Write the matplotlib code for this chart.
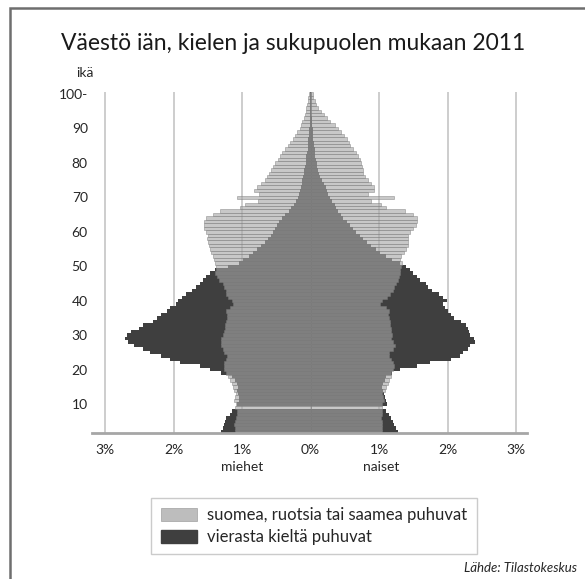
import matplotlib
matplotlib.use("Agg")
import matplotlib.pyplot as plt
import numpy as np
from matplotlib.patches import Patch, Rectangle

plt.rcParams['font.family'] = ['Lato', 'DejaVu Sans']

# ikä 2..100
ika = list(range(2, 101))

# miehet, suomea/ruotsia/saamea puhuvat (% ryhmästä)
miehet_koti = [1.10, 1.10, 1.11, 1.10, 1.09, 1.08, 1.08, 1.10, 1.09, 1.12,
               1.10, 1.09, 1.12, 1.13, 1.15, 1.17, 1.20, 1.24, 1.26, 1.27,
               1.26, 1.24, 1.22, 1.27, 1.28, 1.30, 1.30, 1.31, 1.28, 1.26,
               1.25, 1.25, 1.24, 1.22, 1.22, 1.24, 1.18, 1.13, 1.15, 1.21,
               1.23, 1.24, 1.26, 1.28, 1.33, 1.36, 1.40, 1.38, 1.38, 1.40,
               1.41, 1.42, 1.45, 1.47, 1.48, 1.49, 1.51, 1.50, 1.53, 1.55,
               1.56, 1.55, 1.52, 1.42, 1.32, 1.03, 0.96, 0.76, 1.08, 0.75,
               0.82, 0.78, 0.72, 0.66, 0.63, 0.60, 0.57, 0.55, 0.52, 0.48,
               0.45, 0.41, 0.37, 0.33, 0.30, 0.26, 0.23, 0.20, 0.16, 0.14,
               0.12, 0.10, 0.08, 0.07, 0.06, 0.05, 0.04, 0.03, 0.02]

# miehet, vierasta kieltä puhuvat
miehet_vieras = [1.30, 1.28, 1.27, 1.25, 1.24, 1.18, 1.15, 0.00, 1.08, 1.05,
                 1.04, 1.06, 1.08, 1.06, 1.08, 1.10, 1.15, 1.30, 1.47, 1.62,
                 1.90, 2.05, 2.18, 2.35, 2.45, 2.58, 2.66, 2.71, 2.68, 2.62,
                 2.50, 2.44, 2.30, 2.24, 2.18, 2.10, 2.05, 1.97, 1.94, 1.88,
                 1.82, 1.73, 1.67, 1.62, 1.57, 1.53, 1.47, 1.40, 1.20, 1.05,
                 0.98, 0.90, 0.84, 0.78, 0.72, 0.66, 0.62, 0.58, 0.55, 0.52,
                 0.49, 0.46, 0.42, 0.37, 0.32, 0.28, 0.24, 0.21, 0.19, 0.17,
                 0.16, 0.14, 0.13, 0.12, 0.11, 0.10, 0.09, 0.08, 0.07, 0.06,
                 0.06, 0.05, 0.04, 0.04, 0.03, 0.03, 0.02, 0.02, 0.02, 0.01,
                 0.01, 0.01, 0.01, 0.01, 0.01, 0.01, 0.01, 0.01, 0.01]

# naiset, suomea/ruotsia/saamea puhuvat
naiset_koti = [1.05, 1.04, 1.05, 1.04, 1.03, 1.04, 1.05, 1.05, 1.05, 1.07,
               1.06, 1.05, 1.08, 1.10, 1.13, 1.14, 1.17, 1.18, 1.21, 1.22,
               1.20, 1.18, 1.14, 1.15, 1.20, 1.24, 1.20, 1.18, 1.19, 1.18,
               1.17, 1.16, 1.16, 1.14, 1.13, 1.14, 1.10, 1.02, 1.05, 1.12,
               1.16, 1.20, 1.22, 1.25, 1.27, 1.29, 1.31, 1.30, 1.32, 1.33,
               1.30, 1.32, 1.36, 1.40, 1.42, 1.42, 1.43, 1.42, 1.45, 1.50,
               1.54, 1.56, 1.55, 1.50, 1.38, 1.10, 1.03, 0.88, 1.22, 0.84,
               0.93, 0.92, 0.88, 0.84, 0.80, 0.77, 0.76, 0.75, 0.74, 0.72,
               0.70, 0.66, 0.62, 0.58, 0.56, 0.53, 0.49, 0.44, 0.40, 0.35,
               0.29, 0.24, 0.19, 0.15, 0.11, 0.08, 0.06, 0.04, 0.03]

# naiset, vierasta kieltä puhuvat
naiset_vieras = [1.27, 1.25, 1.22, 1.20, 1.18, 1.15, 1.10, 0.00, 1.12, 1.10,
                 1.08, 1.07, 1.06, 1.05, 1.06, 1.08, 1.10, 1.19, 1.31, 1.55,
                 1.75, 2.05, 2.18, 2.22, 2.30, 2.33, 2.40, 2.38, 2.33, 2.32,
                 2.30, 2.27, 2.20, 2.10, 2.05, 2.00, 1.97, 1.93, 1.99, 1.94,
                 1.88, 1.78, 1.72, 1.68, 1.60, 1.55, 1.50, 1.45, 1.40, 1.31,
                 1.19, 1.10, 1.02, 0.95, 0.88, 0.82, 0.76, 0.72, 0.66, 0.62,
                 0.58, 0.53, 0.48, 0.44, 0.40, 0.37, 0.35, 0.31, 0.28, 0.26,
                 0.24, 0.22, 0.20, 0.17, 0.14, 0.12, 0.11, 0.10, 0.09, 0.08,
                 0.07, 0.06, 0.06, 0.05, 0.05, 0.04, 0.04, 0.03, 0.03, 0.02,
                 0.02, 0.02, 0.01, 0.01, 0.01, 0.01, 0.01, 0.01, 0.01]

x_ticks = [-3, -2, -1, 0, 1, 2, 3]
x_labels = ['3%', '2%', '1%', '0%', '1%', '2%', '3%']
y_ticks = [10, 20, 30, 40, 50, 60, 70, 80, 90, 100]
y_labels = ['10', '20', '30', '40', '50', '60', '70', '80', '90', '100-']

tumma = '#3f3f3f'
vaalea = '#a7a7a7'
teksti = '#262626'

fig = plt.figure(figsize=(5.85, 5.79), dpi=100)

# kehys
fig.patches.append(Rectangle((10 / 585, -0.05), 1.2, 1 - 8 / 579 + 0.05,
                             transform=fig.transFigure, fill=False,
                             edgecolor='#6e6e6e', linewidth=1.8))

ax = fig.add_axes([92 / 585, 1 - 433.3 / 579, 435 / 585, 341 / 579])

ika_arr = np.array(ika)
# vieraskieliset ensin, kotimaiset päälle läpikuultavina
ax.barh(ika_arr, -np.array(miehet_vieras), height=1.0, color=tumma, zorder=2)
ax.barh(ika_arr, np.array(naiset_vieras), height=1.0, color=tumma, zorder=2)
ax.barh(ika_arr, -np.array(miehet_koti), height=1.0, color=vaalea, alpha=0.62,
        edgecolor='#7a7a7a', linewidth=0.5, zorder=3)
ax.barh(ika_arr, np.array(naiset_koti), height=1.0, color=vaalea, alpha=0.62,
        edgecolor='#7a7a7a', linewidth=0.5, zorder=3)

for g in x_ticks:
    ax.axvline(g, color='#c9c9c9', linewidth=1.3, zorder=1)

ax.set_xlim(-3.19, 3.16)
ax.set_ylim(1.5, 100.5)
ax.set_xticks(x_ticks)
ax.set_xticklabels(x_labels, fontsize=10, color=teksti)
ax.set_yticks(y_ticks)
ax.set_yticklabels(y_labels, fontsize=10, color=teksti)
ax.tick_params(axis='both', length=0)
ax.tick_params(axis='x', pad=8)
ax.tick_params(axis='y', pad=3)
for s in ['top', 'right', 'left']:
    ax.spines[s].set_visible(False)
ax.spines['bottom'].set_color('#a6a6a6')
ax.spines['bottom'].set_linewidth(2)
ax.spines['bottom'].set_zorder(4)

fig.text(293 / 585, 1 - 44 / 579, 'Väestö iän, kielen ja sukupuolen mukaan 2011',
         ha='center', va='center', fontsize=16.5, color='#1a1a1a')
fig.text(85 / 585, 1 - 73 / 579, 'ikä', ha='center', va='center',
         fontsize=10, color=teksti)
fig.text(242 / 585, 1 - 467 / 579, 'miehet', ha='center', va='center',
         fontsize=10, color=teksti)
fig.text(381 / 585, 1 - 467 / 579, 'naiset', ha='center', va='center',
         fontsize=10, color=teksti)
fig.text(577 / 585, 1 - 568 / 579, 'Lähde: Tilastokeskus', ha='right',
         va='center', fontsize=9.5, style='italic', color=teksti)

kahvat = [Patch(facecolor='#bdbdbd', edgecolor='#a0a0a0', linewidth=0.5),
          Patch(facecolor=tumma, edgecolor=tumma)]
leg = fig.legend(kahvat, ['suomea, ruotsia tai saamea puhuvat',
                          'vierasta kieltä puhuvat'],
                 loc='center', bbox_to_anchor=(314 / 585, 1 - 526 / 579),
                 fontsize=12, frameon=True, fancybox=False, handlelength=2.2,
                 handleheight=0.8, labelspacing=0.35, borderpad=0.55,
                 handletextpad=0.6, borderaxespad=0)
leg.get_frame().set_edgecolor('#bfbfbf')
leg.get_frame().set_linewidth(1.0)
for t in leg.get_texts():
    t.set_color(teksti)

fig.savefig('out.png', dpi=100)
